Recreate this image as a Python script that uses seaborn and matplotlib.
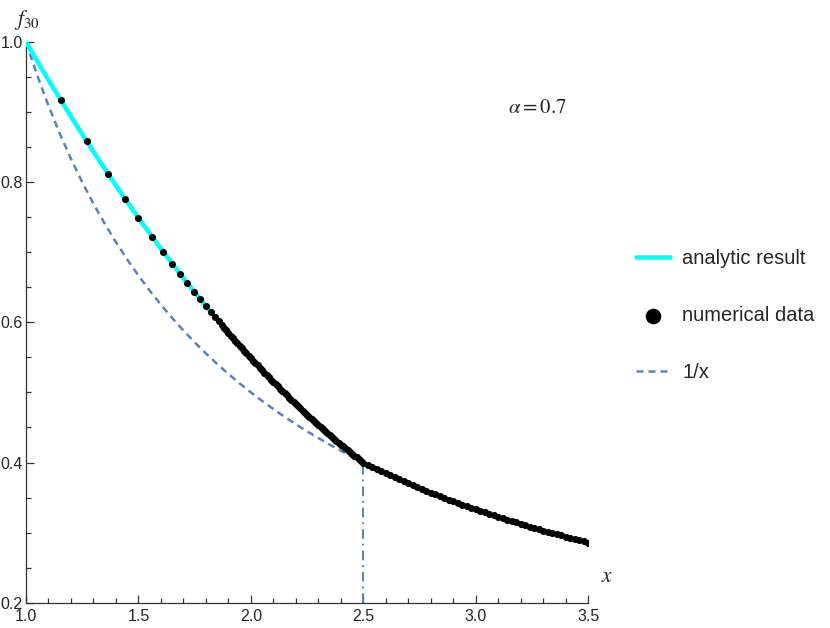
import matplotlib
matplotlib.use("Agg")
import matplotlib.pyplot as plt
from matplotlib.ticker import MultipleLocator, FormatStrFormatter
import seaborn as sns

# analytic result (cyan curve)
analytic_x = [1.0, 1.1, 1.2, 1.3, 1.4, 1.5, 1.6, 1.7, 1.8, 1.9, 2.0, 2.1, 2.2, 2.3, 2.4, 2.5]
analytic_y = [1.0, 0.9457, 0.8935, 0.8433, 0.7951, 0.7490, 0.7049, 0.6629, 0.6229, 0.5849,
              0.5490, 0.5151, 0.4833, 0.4535, 0.4257, 0.4000]

# numerical data, sparse part
num_x_sparse = [1.155, 1.27, 1.364, 1.44, 1.50, 1.56, 1.61, 1.65, 1.684, 1.717, 1.747, 1.775,
                1.80, 1.821, 1.84, 1.856]
num_y_sparse = [0.9167, 0.8581, 0.8122, 0.7764, 0.7490, 0.7223, 0.7006, 0.6837, 0.6695, 0.6559,
                0.6438, 0.6327, 0.6229, 0.6147, 0.6075, 0.6014]

# numerical data, dense part up to x = 2.5
num_x_dense = [1.87, 1.88, 1.89, 1.90, 1.91, 1.92, 1.93, 1.94, 1.95, 1.96, 1.97, 1.98, 1.99,
               2.00, 2.01, 2.02, 2.03, 2.04, 2.05, 2.06, 2.07, 2.08, 2.09, 2.10, 2.11, 2.12,
               2.13, 2.14, 2.15, 2.16, 2.17, 2.18, 2.19, 2.20, 2.21, 2.22, 2.23, 2.24, 2.25,
               2.26, 2.27, 2.28, 2.29, 2.30, 2.31, 2.32, 2.33, 2.34, 2.35, 2.36, 2.37, 2.38,
               2.39, 2.40, 2.41, 2.42, 2.43, 2.44, 2.45, 2.46, 2.47, 2.48, 2.49]
num_y_dense = [0.5961, 0.5924, 0.5886, 0.5849, 0.5812, 0.5776, 0.5739, 0.5703, 0.5667, 0.5631,
               0.5596, 0.5560, 0.5525, 0.5490, 0.5455, 0.5421, 0.5386, 0.5352, 0.5318, 0.5284,
               0.5251, 0.5217, 0.5184, 0.5151, 0.5118, 0.5086, 0.5054, 0.5021, 0.4990, 0.4958,
               0.4926, 0.4895, 0.4864, 0.4833, 0.4802, 0.4772, 0.4741, 0.4711, 0.4681, 0.4652,
               0.4622, 0.4593, 0.4564, 0.4535, 0.4506, 0.4478, 0.4449, 0.4421, 0.4393, 0.4366,
               0.4338, 0.4311, 0.4284, 0.4257, 0.4231, 0.4204, 0.4178, 0.4152, 0.4126, 0.4100,
               0.4075, 0.4050, 0.4025]

# numerical data beyond x = 2.5 (follows 1/x)
num_x_tail = [2.50, 2.52, 2.54, 2.56, 2.58, 2.60, 2.62, 2.64, 2.66, 2.68, 2.70, 2.72, 2.74,
              2.76, 2.78, 2.80, 2.82, 2.84, 2.86, 2.88, 2.90, 2.92, 2.94, 2.96, 2.98, 3.00,
              3.02, 3.04, 3.06, 3.08, 3.10, 3.12, 3.14, 3.16, 3.18, 3.20, 3.22, 3.24, 3.26,
              3.28, 3.30, 3.32, 3.34, 3.36, 3.38, 3.40, 3.42, 3.44, 3.46, 3.48, 3.50]
num_y_tail = [0.4000, 0.3968, 0.3937, 0.3906, 0.3876, 0.3846, 0.3817, 0.3788, 0.3759, 0.3731,
              0.3704, 0.3676, 0.3650, 0.3623, 0.3597, 0.3571, 0.3546, 0.3521, 0.3497, 0.3472,
              0.3448, 0.3425, 0.3401, 0.3378, 0.3356, 0.3333, 0.3311, 0.3289, 0.3268, 0.3247,
              0.3226, 0.3205, 0.3185, 0.3165, 0.3145, 0.3125, 0.3106, 0.3086, 0.3067, 0.3049,
              0.3030, 0.3012, 0.2994, 0.2976, 0.2959, 0.2941, 0.2924, 0.2907, 0.2890, 0.2874,
              0.2857]

# 1/x reference curve
inv_x = [1.00, 1.05, 1.10, 1.15, 1.20, 1.25, 1.30, 1.35, 1.40, 1.45, 1.50, 1.55, 1.60, 1.65,
         1.70, 1.75, 1.80, 1.85, 1.90, 1.95, 2.00, 2.05, 2.10, 2.15, 2.20, 2.25, 2.30, 2.35,
         2.40, 2.45, 2.50]
inv_y = [1.0, 0.9524, 0.9091, 0.8696, 0.8333, 0.8, 0.7692, 0.7407, 0.7143, 0.6897, 0.6667,
         0.6452, 0.625, 0.6061, 0.5882, 0.5714, 0.5556, 0.5405, 0.5263, 0.5128, 0.5, 0.4878,
         0.4762, 0.4651, 0.4545, 0.4444, 0.4348, 0.4255, 0.4167, 0.4082, 0.4]

# vertical marker at x = 2.5
vline_x = [2.5, 2.5]
vline_y = [0.2, 0.4]

alpha_value = 0.7

sns.set_style("ticks")
plt.rcParams["font.family"] = ["Liberation Sans", "DejaVu Sans"]
plt.rcParams["mathtext.fontset"] = "stix"

fig = plt.figure(figsize=(8.3, 6.28), dpi=100)
ax = fig.add_axes([0.0313, 0.0403, 0.6777, 0.8928])

blue = "#5E81B5"
sns.lineplot(x=inv_x, y=inv_y, ax=ax, color=blue, lw=1.8, label="1/x", zorder=2)
ax.lines[-1].set_linestyle((0, (2.8, 2.0)))
sns.lineplot(x=vline_x, y=vline_y, ax=ax, color=blue, lw=1.4, estimator=None,
             sort=False, zorder=2)
ax.lines[-1].set_linestyle((0, (5, 2.5, 1, 2.5)))
sns.lineplot(x=analytic_x, y=analytic_y, ax=ax, color="#00FFFF", lw=3.3,
             label="analytic result", zorder=3)

num_x = num_x_sparse + num_x_dense + num_x_tail
num_y = num_y_sparse + num_y_dense + num_y_tail
sns.scatterplot(x=num_x, y=num_y, ax=ax, color="black", s=26, linewidth=0,
                label="numerical data", zorder=4)

ax.set_xlim(1.0, 3.5)
ax.set_ylim(0.2, 1.0)
ax.xaxis.set_major_locator(MultipleLocator(0.5))
ax.xaxis.set_minor_locator(MultipleLocator(0.1))
ax.yaxis.set_major_locator(MultipleLocator(0.2))
ax.yaxis.set_minor_locator(MultipleLocator(0.05))
ax.xaxis.set_major_formatter(FormatStrFormatter("%.1f"))
ax.yaxis.set_major_formatter(FormatStrFormatter("%.1f"))
ax.tick_params(which="both", direction="in", color="#333333", width=0.9, labelsize=11.5)
ax.tick_params(which="major", length=6)
ax.tick_params(which="minor", length=3.5)
ax.tick_params(axis="x", pad=4.5)
ax.tick_params(axis="y", pad=2.2)
for side in ["top", "right"]:
    ax.spines[side].set_visible(False)
for side in ["left", "bottom"]:
    ax.spines[side].set_color("#333333")
    ax.spines[side].set_linewidth(0.9)
ax.set_xlabel("")
ax.set_ylabel("")

fig.text(27 / 830, 1 - 20 / 628, r"$f_{30}$", fontsize=15.5, ha="center", va="center")
fig.text(607 / 830, 1 - 577 / 628, r"$x$", fontsize=15.5, ha="center", va="center")
ax.text(3.275, 0.907, r"$\alpha = %.1f$" % alpha_value, fontsize=15, ha="center", va="center")

handles, labels = ax.get_legend_handles_labels()
order = [labels.index("analytic result"), labels.index("numerical data"), labels.index("1/x")]
ax.legend([handles[i] for i in order], [labels[i] for i in order],
          loc="upper left", bbox_to_anchor=(636 / 830, 1 - 249 / 628),
          bbox_transform=fig.transFigure, frameon=False, fontsize=14.5,
          borderpad=0, borderaxespad=0, labelspacing=1.88, handlelength=1.7,
          handletextpad=0.6, markerscale=2.2)

fig.savefig("out.png", dpi=100)
